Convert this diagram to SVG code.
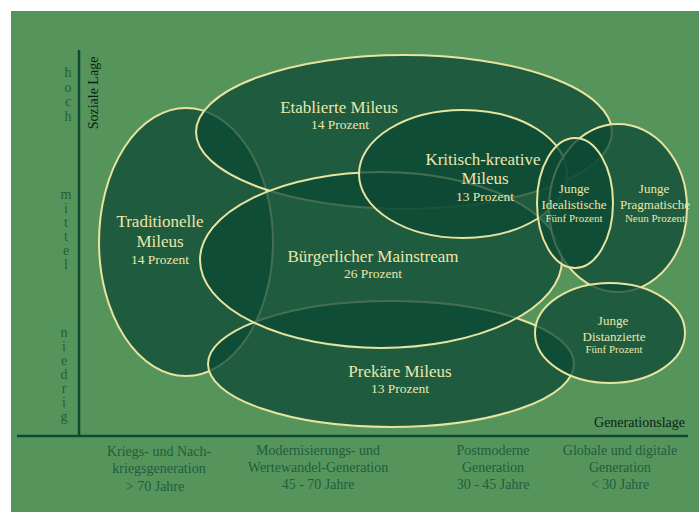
<svg xmlns="http://www.w3.org/2000/svg" width="699" height="512" viewBox="0 0 699 512">
  <style>
    .milieu { fill: #0c4836; fill-opacity: 0.75; stroke: #e8e39f; stroke-width: 2; }
    .axis { stroke: #0f4a33; stroke-width: 2.5; fill: none; }
    .t { font-family: "Liberation Serif", "Times New Roman", serif; text-anchor: middle; fill: #ece7a8; }
    .name { font-size: 17px; }
    .pct { font-size: 13.5px; }
    .small { font-size: 13px; }
    .tiny { font-size: 11px; }
    .axlab { font-family: "Liberation Serif", "Times New Roman", serif; font-size: 14px; fill: #215d3e; text-anchor: middle; }
    .axtitle { font-family: "Liberation Serif", "Times New Roman", serif; font-size: 14px; fill: #0b1f14; }
  </style>

  <!-- page background -->
  <rect x="0" y="0" width="699" height="512" fill="#ffffff"/>
  <rect x="11" y="11" width="688" height="501" fill="#55955b"/>

  <!-- axes -->
  <g id="axes">
    <line class="axis" x1="79" y1="50" x2="79" y2="437"/>
    <line class="axis" x1="17" y1="436" x2="688" y2="436"/>
    <text class="axtitle" transform="translate(98,93) rotate(-90)" text-anchor="middle">Soziale Lage</text>
    <text class="axtitle" x="685" y="427" text-anchor="end">Generationslage</text>
    <g class="axlab">
      <text x="68" y="77">h</text>
      <text x="68" y="92">o</text>
      <text x="68" y="106">c</text>
      <text x="68" y="121">h</text>
      <text x="66" y="199">m</text>
      <text x="66" y="213">i</text>
      <text x="66" y="227">t</text>
      <text x="66" y="241">t</text>
      <text x="66" y="255">e</text>
      <text x="66" y="269">l</text>
      <text x="64" y="337">n</text>
      <text x="64" y="351">i</text>
      <text x="64" y="365">e</text>
      <text x="64" y="379">d</text>
      <text x="64" y="393">r</text>
      <text x="64" y="407">i</text>
      <text x="64" y="421">g</text>
    </g>
  </g>

  <!-- generation labels -->
  <g id="generations" class="axlab">
    <text x="159" y="456">Kriegs- und Nach-</text>
    <text x="159" y="473">kriegsgeneration</text>
    <text x="155" y="491">&gt;  70 Jahre</text>
    <text x="318" y="455">Modernisierungs- und</text>
    <text x="318" y="472">Wertewandel-Generation</text>
    <text x="318" y="489">45 - 70 Jahre</text>
    <text x="493" y="455">Postmoderne</text>
    <text x="493" y="472">Generation</text>
    <text x="493" y="489">30 - 45 Jahre</text>
    <text x="620" y="455">Globale und digitale</text>
    <text x="620" y="472">Generation</text>
    <text x="620" y="489">&lt; 30 Jahre</text>
  </g>

  <!-- milieu ellipses -->
  <g id="traditionelle"><ellipse class="milieu" cx="186" cy="242" rx="87" ry="134"/></g>
  <g id="prekaere"><ellipse class="milieu" cx="391" cy="364" rx="183" ry="63"/></g>
  <g id="etablierte"><ellipse class="milieu" cx="404" cy="132" rx="208" ry="77"/></g>
  <g id="buergerlicher-mainstream"><ellipse class="milieu" cx="381" cy="260" rx="181" ry="88"/></g>
  <g id="kritisch-kreative"><ellipse class="milieu" cx="463" cy="174" rx="104" ry="64"/></g>
  <g id="junge-pragmatische"><ellipse class="milieu" cx="618" cy="208" rx="69" ry="84"/></g>
  <g id="junge-idealistische"><ellipse class="milieu" cx="575" cy="203" rx="38" ry="65"/></g>
  <g id="junge-distanzierte"><ellipse class="milieu" cx="610" cy="333" rx="75" ry="50"/></g>

  <!-- milieu labels -->
  <g id="labels">
    <text class="t name" x="339" y="113">Etablierte Mileus</text>
    <text class="t pct" x="340" y="129">14 Prozent</text>

    <text class="t name" x="160" y="227">Traditionelle</text>
    <text class="t name" x="160" y="247">Mileus</text>
    <text class="t pct" x="160" y="264">14 Prozent</text>

    <text class="t name" x="373" y="262">Bürgerlicher Mainstream</text>
    <text class="t pct" x="373" y="278">26 Prozent</text>

    <text class="t name" x="400" y="377">Prekäre Mileus</text>
    <text class="t pct" x="400" y="393">13 Prozent</text>

    <text class="t name" x="483" y="165">Kritisch-kreative</text>
    <text class="t name" x="485" y="184">Mileus</text>
    <text class="t pct" x="485" y="201">13 Prozent</text>

    <text class="t small" x="574" y="193">Junge</text>
    <text class="t small" x="574" y="209">Idealistische</text>
    <text class="t tiny" x="574" y="222">Fünf Prozent</text>

    <text class="t small" x="654" y="193">Junge</text>
    <text class="t small" x="655" y="209">Pragmatische</text>
    <text class="t tiny" x="655" y="222">Neun Prozent</text>

    <text class="t small" x="613" y="325">Junge</text>
    <text class="t small" x="614" y="341">Distanzierte</text>
    <text class="t tiny" x="614" y="353">Fünf Prozent</text>
  </g>
</svg>
